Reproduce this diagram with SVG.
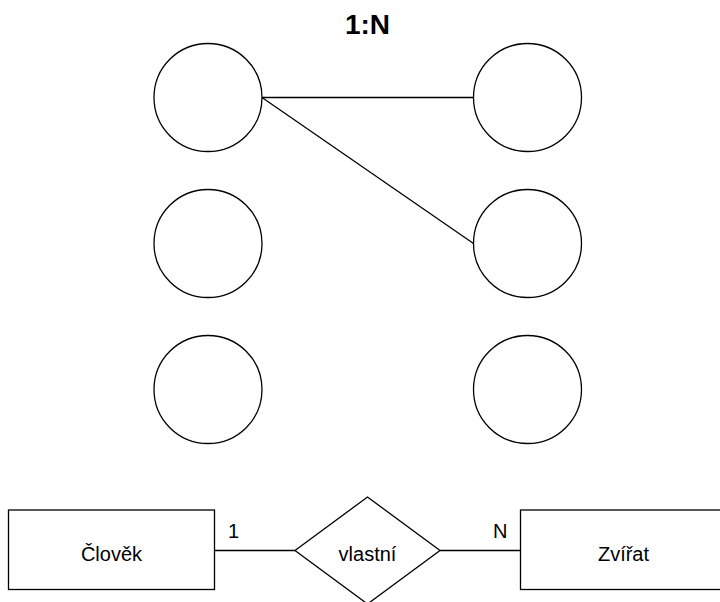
<svg xmlns="http://www.w3.org/2000/svg" width="720" height="602" viewBox="0 0 720 602">
<style>
.s{fill:#fff;stroke:#000;stroke-width:1.3}
.c{fill:none;stroke:#000;stroke-width:1.3}
text{font-family:"Liberation Sans",Arial,sans-serif;fill:#000}
.lbl{font-size:20px;text-anchor:middle}
.card{font-size:20px;text-anchor:middle}
</style>
<rect width="720" height="602" fill="#fff"/>
<text id="title" x="367.5" y="33.5" font-size="28" font-weight="bold" text-anchor="middle">1:N</text>
<g id="connectors">
<line class="c" x1="262" y1="97.5" x2="473.5" y2="97.5"/>
<line class="c" x1="262" y1="97.5" x2="473.5" y2="243.5"/>
<line class="c" x1="214.5" y1="550.5" x2="295" y2="550.5"/>
<line class="c" x1="440" y1="550.5" x2="520.5" y2="550.5"/>
</g>
<g id="l1"><circle class="s" cx="208" cy="97.5" r="54"/></g>
<g id="l2"><circle class="s" cx="208" cy="243.5" r="54"/></g>
<g id="l3"><circle class="s" cx="208" cy="389.5" r="54"/></g>
<g id="r1"><circle class="s" cx="527.5" cy="97.5" r="54"/></g>
<g id="r2"><circle class="s" cx="527.5" cy="243.5" r="54"/></g>
<g id="r3"><circle class="s" cx="527.5" cy="389.5" r="54"/></g>
<g id="clovek"><rect class="s" x="8.5" y="510" width="206" height="79.5"/><text class="lbl" x="111.5" y="561">Člověk</text></g>
<g id="vlastni"><polygon class="s" points="367.5,497 440,550.5 367.5,604 295,550.5"/><text class="lbl" x="367.5" y="561">vlastní</text></g>
<g id="zvirat"><rect class="s" x="520.5" y="510" width="206" height="79.5"/><text class="lbl" x="623.5" y="561">Zvířat</text></g>
<text class="card" x="233.5" y="537.5">1</text>
<text class="card" x="500.3" y="537.5">N</text>
</svg>
